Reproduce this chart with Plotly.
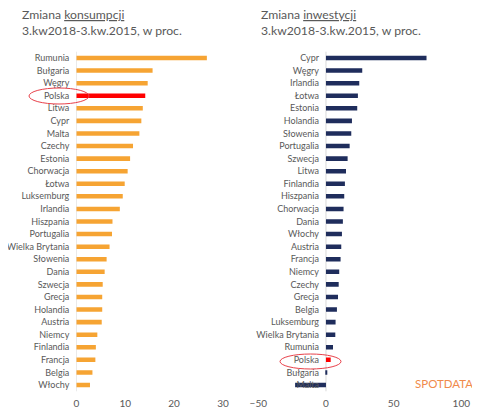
import plotly.graph_objects as go

# dane
kraje_kons = ['Rumunia', 'Bułgaria', 'Węgry', 'Polska', 'Litwa', 'Cypr', 'Malta', 'Czechy',
              'Estonia', 'Chorwacja', 'Łotwa', 'Luksemburg', 'Irlandia', 'Hiszpania',
              'Portugalia', 'Wielka Brytania', 'Słowenia', 'Dania', 'Szwecja', 'Grecja',
              'Holandia', 'Austria', 'Niemcy', 'Finlandia', 'Francja', 'Belgia', 'Włochy']
konsumpcja = [26.7, 15.6, 14.6, 14.1, 13.6, 13.3, 12.9, 11.6, 11.0, 10.5, 9.9, 9.5, 8.9, 7.4,
              7.3, 6.8, 6.2, 5.8, 5.4, 5.3, 5.3, 5.2, 4.3, 4.0, 3.9, 3.3, 2.8]

kraje_inw = ['Cypr', 'Węgry', 'Irlandia', 'Łotwa', 'Estonia', 'Holandia', 'Słowenia',
             'Portugalia', 'Szwecja', 'Litwa', 'Finlandia', 'Hiszpania', 'Chorwacja', 'Dania',
             'Włochy', 'Austria', 'Francja', 'Niemcy', 'Czechy', 'Grecja', 'Belgia',
             'Luksemburg', 'Wielka Brytania', 'Rumunia', 'Polska', 'Bułgaria', 'Malta']
inwestycje = [74.3, 26.8, 24.6, 23.6, 23.1, 19.2, 18.7, 17.5, 16.0, 14.8, 14.0, 13.5, 13.0, 12.5,
              11.8, 11.3, 10.8, 9.8, 9.4, 8.9, 8.1, 7.1, 6.9, 5.2, 3.5, 0.6, -22.8]

# strona ma domyslny margines 8px, wiec figura jest o tyle mniejsza i przesunieta
OFF = 8
W, H = 480 - OFF, 415 - OFF
SZARY = '#595959'
FONT = 'Lato'


def px_x(p):
    return (p - OFF) / W


def px_y(p):
    return 1 - (p - OFF) / H


kol_kons = ['#ff0000' if k == 'Polska' else '#f6a433' for k in kraje_kons]
kol_inw = ['#ff0000' if k == 'Polska' else '#1f2d5c' for k in kraje_inw]

fig = go.Figure()
fig.add_trace(go.Bar(x=konsumpcja, y=kraje_kons, orientation='h',
                     marker=dict(color=kol_kons, line=dict(width=0)),
                     xaxis='x', yaxis='y', showlegend=False))
fig.add_trace(go.Bar(x=inwestycje, y=kraje_inw, orientation='h',
                     marker=dict(color=kol_inw, line=dict(width=0)),
                     xaxis='x2', yaxis='y2', showlegend=False))

y_dom = [px_y(391.3), px_y(51.7)]
os_y = dict(autorange='reversed', type='category', showgrid=False, zeroline=False,
            tickfont=dict(family=FONT, size=9, color=SZARY), ticks='', ticklabelstandoff=7,
            domain=y_dom, automargin=False)
os_x = dict(showgrid=False, zeroline=False, ticks='', automargin=False, ticklabelstandoff=5,
            tickfont=dict(family=FONT, size=10, color=SZARY))

fig.update_layout(
    template='none',
    width=W, height=H,
    margin=dict(l=0, r=0, t=0, b=0, pad=0),
    paper_bgcolor='white', plot_bgcolor='white',
    bargap=0.64,
    xaxis=dict(os_x, domain=[px_x(76.3), px_x(223)], range=[0, 30], tickvals=[0, 10, 20, 30],
               anchor='y'),
    yaxis=dict(os_y, categoryarray=kraje_kons, anchor='free', position=px_x(76.3)),
    xaxis2=dict(os_x, domain=[px_x(258.3), px_x(461.3)], range=[-50, 100],
                tickvals=[-50, 0, 50, 100], anchor='y2'),
    yaxis2=dict(os_y, categoryarray=kraje_inw, anchor='free', position=px_x(326)),
)

# pionowe linie przy zerze
for xr in ['x', 'x2']:
    fig.add_shape(type='line', xref=xr, yref='paper', x0=0, x1=0,
                  y0=y_dom[0], y1=y_dom[1], line=dict(color='#d9d9d9', width=1), layer='below')

# tytuly
tytul = dict(xref='paper', yref='paper', xanchor='left', yanchor='top', align='left',
             showarrow=False, font=dict(family=FONT, size=12.2, color=SZARY))
fig.add_annotation(tytul, x=px_x(20), y=px_y(5),
                   text='Zmiana <u>konsumpcji</u><br>3.kw2018-3.kw.2015, w proc.')
fig.add_annotation(tytul, x=px_x(259), y=px_y(5),
                   text='Zmiana <u>inwestycji</u><br>3.kw2018-3.kw.2015, w proc.')

# zaznaczenie Polski
fig.add_shape(type='circle', xref='paper', yref='paper',
              x0=px_x(29), x1=px_x(89), y0=px_y(104), y1=px_y(88),
              line=dict(color='#e8414a', width=1))
fig.add_shape(type='circle', xref='paper', yref='paper',
              x0=px_x(280), x1=px_x(341), y0=px_y(369), y1=px_y(354),
              line=dict(color='#e8414a', width=1))

fig.add_annotation(xref='paper', yref='paper', x=px_x(475), y=px_y(383), xanchor='right',
                   yanchor='middle', showarrow=False, text='SPOTDATA',
                   font=dict(family=FONT, size=11.5, color='#f08a4b'))

fig.write_html('out.html')
